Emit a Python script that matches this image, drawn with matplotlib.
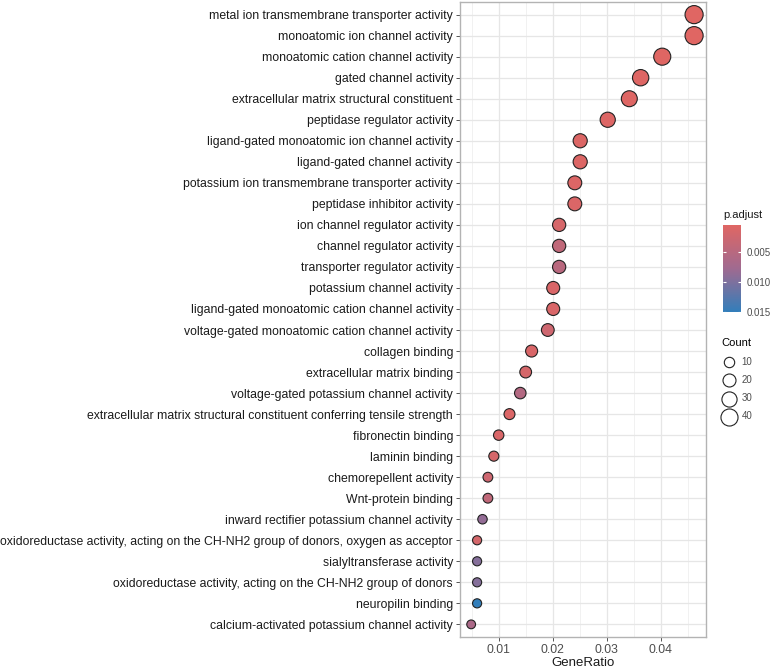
import numpy as np
import matplotlib
matplotlib.use('Agg')
import matplotlib.pyplot as plt
from matplotlib.colors import LinearSegmentedColormap, Normalize

plt.rcParams['font.family'] = ['Liberation Sans', 'DejaVu Sans']

terms = [
    'metal ion transmembrane transporter activity',
    'monoatomic ion channel activity',
    'monoatomic cation channel activity',
    'gated channel activity',
    'extracellular matrix structural constituent',
    'peptidase regulator activity',
    'ligand-gated monoatomic ion channel activity',
    'ligand-gated channel activity',
    'potassium ion transmembrane transporter activity',
    'peptidase inhibitor activity',
    'ion channel regulator activity',
    'channel regulator activity',
    'transporter regulator activity',
    'potassium channel activity',
    'ligand-gated monoatomic cation channel activity',
    'voltage-gated monoatomic cation channel activity',
    'collagen binding',
    'extracellular matrix binding',
    'voltage-gated potassium channel activity',
    'extracellular matrix structural constituent conferring tensile strength',
    'fibronectin binding',
    'laminin binding',
    'chemorepellent activity',
    'Wnt-protein binding',
    'inward rectifier potassium channel activity',
    'oxidoreductase activity, acting on the CH-NH2 group of donors, oxygen as acceptor',
    'sialyltransferase activity',
    'oxidoreductase activity, acting on the CH-NH2 group of donors',
    'neuropilin binding',
    'calcium-activated potassium channel activity',
]
counts = [46, 46, 40, 36, 34, 30, 25, 25, 24, 24, 21, 21, 21, 20, 20, 19, 16, 15, 14, 12,
          10, 9, 8, 8, 7, 6, 6, 6, 6, 5]
gene_ratio = [0.0462, 0.0462, 0.0403, 0.0363, 0.0342, 0.0302, 0.0251, 0.0251, 0.0241, 0.0241,
              0.0212, 0.0212, 0.0212, 0.0201, 0.0201, 0.0191, 0.0161, 0.0150, 0.0140, 0.0120,
              0.0100, 0.0091, 0.0080, 0.0080, 0.0070, 0.0060, 0.0060, 0.0060, 0.0060, 0.0049]
p_adjust = [0.0004, 0.0004, 0.0005, 0.0006, 0.0006, 0.0007, 0.0008, 0.0008, 0.0009, 0.0010,
            0.0015, 0.0040, 0.0048, 0.0012, 0.0012, 0.0025, 0.0012, 0.0016, 0.0055, 0.0010,
            0.0012, 0.0016, 0.0025, 0.0040, 0.0085, 0.0018, 0.0095, 0.0095, 0.0150, 0.0065]
legend_counts = [10, 20, 30, 40]

# red -> purple -> blue, roughly what a Lab-space gradient gives
cmap = LinearSegmentedColormap.from_list('padj', ['#E06663', '#A06A90', '#327EBA'])
norm = Normalize(vmin=min(p_adjust), vmax=max(p_adjust))

cmin, cmax = min(counts), max(counts)
def size_of(c):
    # area grows linearly with count, like ggplot's scale_size
    return 40 + (np.asarray(c) - cmin) * (130 / (cmax - cmin))

fig = plt.figure(figsize=(7.74, 6.71), dpi=100)
ax = fig.add_axes([0.5943, 0.0507, 0.3178, 0.9463])

y = np.arange(len(terms))[::-1]
sc = ax.scatter(gene_ratio, y, s=size_of(counts), c=p_adjust, cmap=cmap, norm=norm,
                edgecolors='#222222', linewidths=0.8, zorder=3)

ax.set_yticks(y)
ax.set_yticklabels(terms, fontsize=8.8, color='#1a1a1a')
ax.set_ylim(-0.6, len(terms) - 0.4)
ax.set_xlim(0.00283, 0.0484)
ax.set_xticks([0.01, 0.02, 0.03, 0.04])
ax.set_xticklabels(['0.01', '0.02', '0.03', '0.04'], fontsize=8.8, color='#4d4d4d')
ax.set_xticks([0.005, 0.015, 0.025, 0.035, 0.045], minor=True)
ax.set_xlabel('GeneRatio', fontsize=9.5, color='#1a1a1a', labelpad=1)

ax.grid(True, which='major', color='#e6e6e6', linewidth=0.9, zorder=0)
ax.grid(True, which='minor', axis='x', color='#efefef', linewidth=0.6, zorder=0)
ax.set_axisbelow(True)
ax.tick_params(axis='both', which='major', length=3, color='#555555', width=0.7, pad=2)
ax.tick_params(axis='x', which='minor', length=0)
for sp in ax.spines.values():
    sp.set_color('#b3b3b3')
    sp.set_linewidth(1.0)

# colour bar
cax = fig.add_axes([0.934, 0.535, 0.0233, 0.130])
cb = fig.colorbar(sc, cax=cax)
cb.ax.invert_yaxis()
cb.set_ticks([0.005, 0.010, 0.015])
cb.set_ticklabels(['0.005', '0.010', '0.015'])
cb.ax.tick_params(labelsize=7, labelcolor='#4d4d4d', length=2.5, color='white', width=0.8,
                  direction='in', left=True, right=True, pad=4)
cb.outline.set_visible(False)
cax.set_title('p.adjust', fontsize=8, loc='left', pad=5, color='#1a1a1a')

# size legend
handles = [ax.scatter([], [], s=size_of(c), facecolors='white', edgecolors='#222222',
                      linewidths=0.8) for c in legend_counts]
leg = fig.legend(handles, [str(c) for c in legend_counts], title='Count',
                 loc='upper left', bbox_to_anchor=(0.923, 0.506), frameon=False,
                 fontsize=7, title_fontsize=8, labelspacing=0.85, handletextpad=0.5,
                 borderpad=0.2, handlelength=1.6, alignment='left')
for t in leg.get_texts():
    t.set_color('#4d4d4d')

fig.savefig('out.png', dpi=100)
